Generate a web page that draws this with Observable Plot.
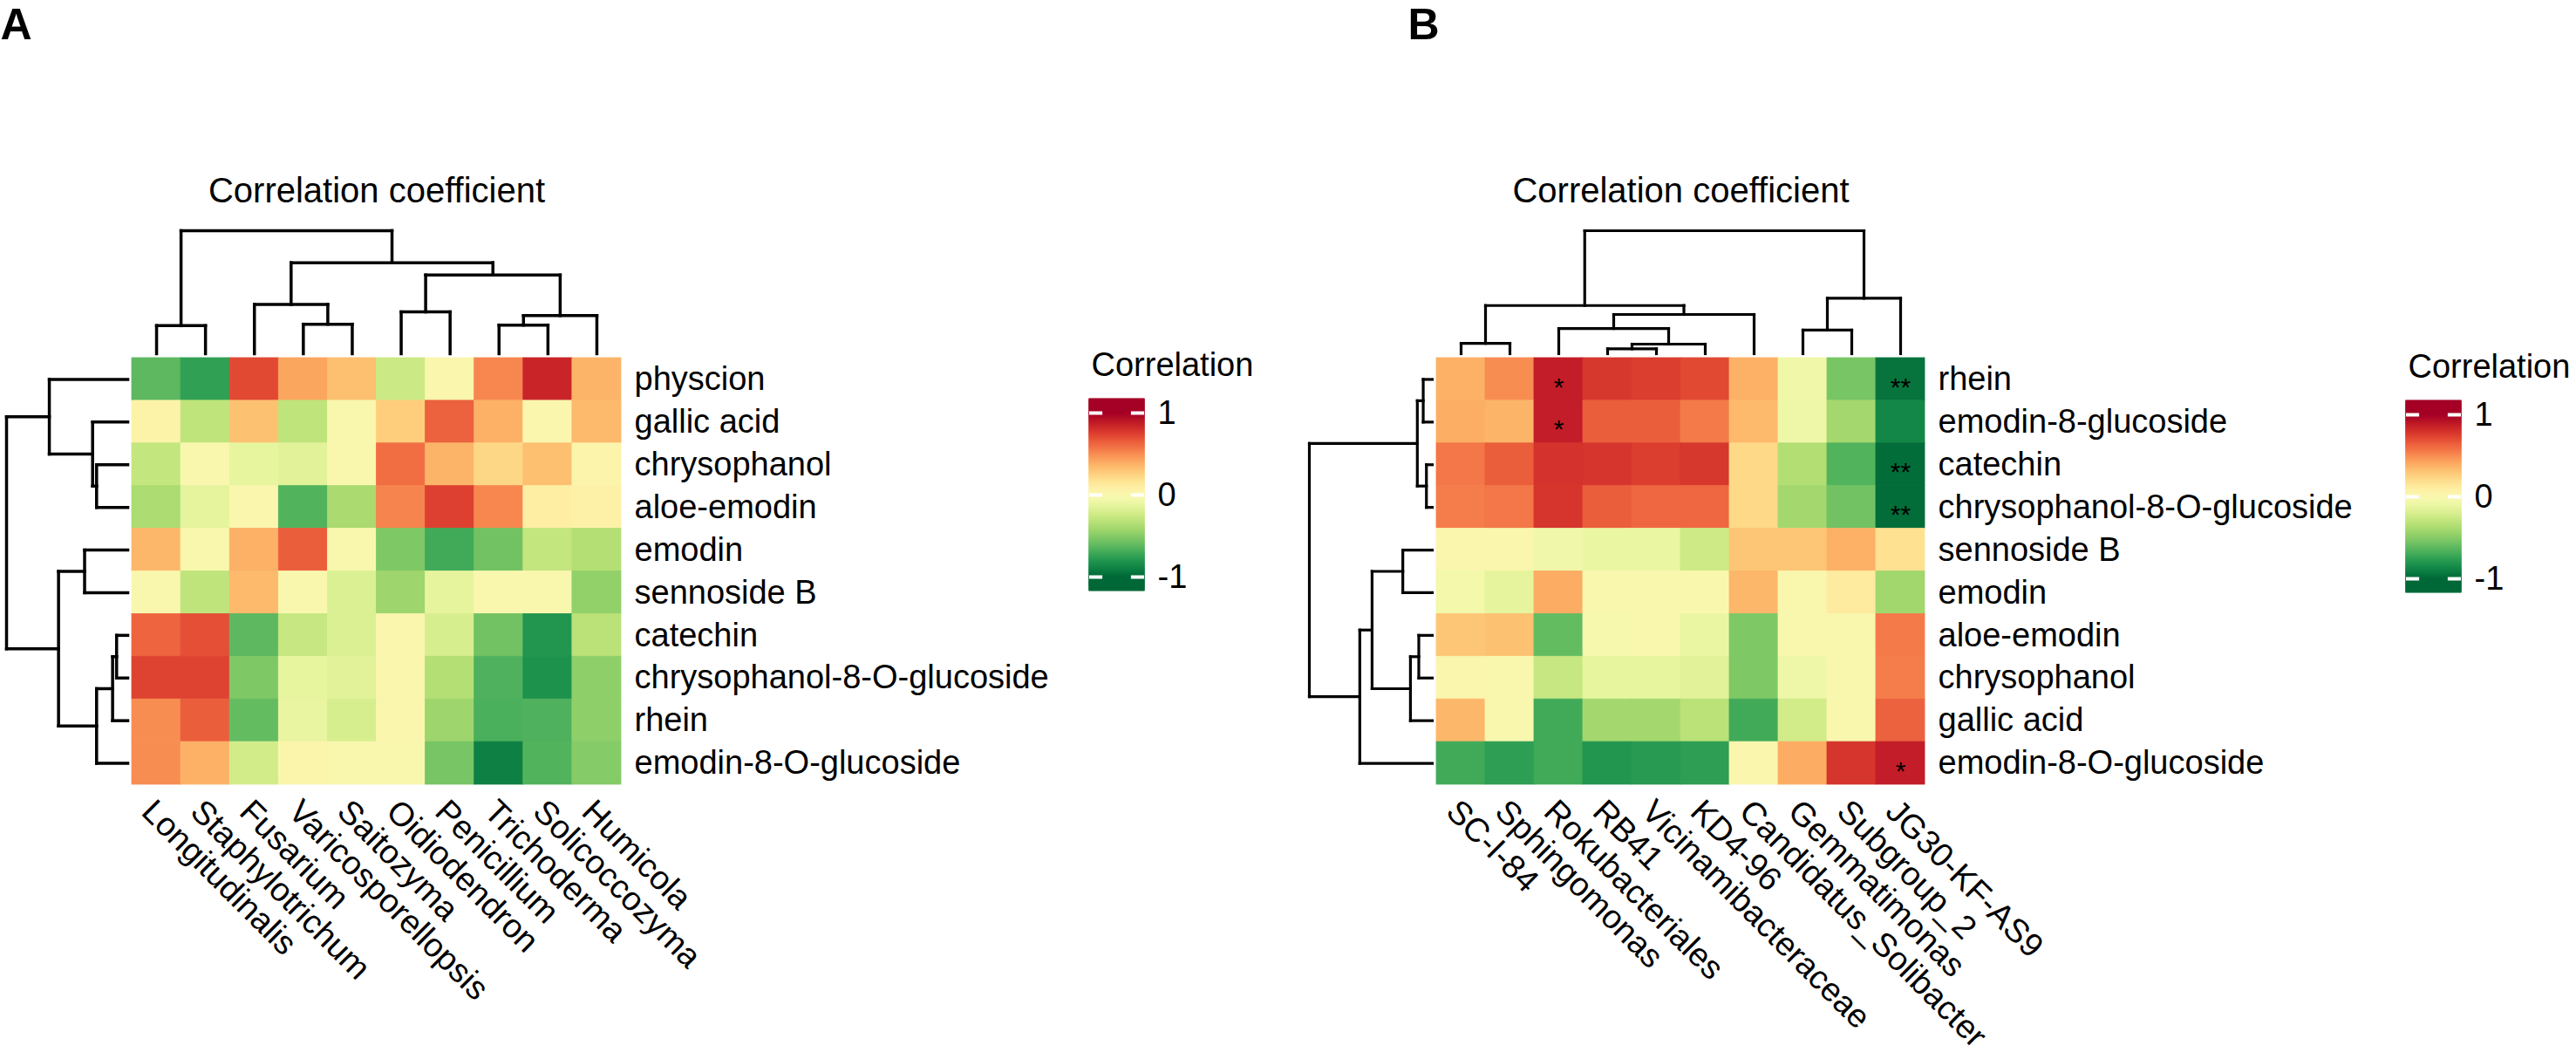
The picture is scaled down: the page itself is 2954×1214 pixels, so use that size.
<!DOCTYPE html>
<html><head><meta charset="utf-8">
<script src="https://cdn.jsdelivr.net/npm/d3@7"></script>
<script src="https://cdn.jsdelivr.net/npm/@observablehq/plot@0.6"></script>
<style>
html,body{margin:0;padding:0;background:#fff;}
#page{position:relative;width:2954px;height:1214px;overflow:hidden;background:#fff;}
#page svg{position:absolute;overflow:visible;}
</style></head><body><div id="page"></div>
<script>
// ---------------- Panel A data ----------------
const colsA = ["Longitudinalis","Staphylotrichum","Fusarium","Varicosporellopsis","Saitozyma","Oidiodendron","Penicillium","Trichoderma","Solicoccozyma","Humicola"];
const rowsA = ["physcion","gallic acid","chrysophanol","aloe-emodin","emodin","sennoside B","catechin","chrysophanol-8-O-glucoside","rhein","emodin-8-O-glucoside"];
const valuesA = [
  [-0.62,-0.75, 0.72, 0.42, 0.33,-0.25, 0.02, 0.52, 0.85, 0.37],
  [ 0.06,-0.30, 0.32,-0.30, 0.00, 0.27, 0.64, 0.38, 0.03, 0.35],
  [-0.28, 0.00,-0.12,-0.15, 0.00, 0.60, 0.37, 0.23, 0.33, 0.05],
  [-0.37,-0.13, 0.02,-0.65,-0.38, 0.53, 0.75, 0.52, 0.10, 0.08],
  [ 0.36, 0.00, 0.38, 0.65, 0.01,-0.52,-0.70,-0.56,-0.28,-0.34],
  [ 0.01,-0.30, 0.35, 0.00,-0.18,-0.42,-0.13, 0.00, 0.00,-0.46],
  [ 0.63, 0.70,-0.62,-0.27,-0.18, 0.02,-0.20,-0.56,-0.80,-0.32],
  [ 0.74, 0.74,-0.52,-0.12,-0.15, 0.02,-0.34,-0.66,-0.82,-0.47],
  [ 0.50, 0.65,-0.60,-0.11,-0.20, 0.02,-0.42,-0.67,-0.66,-0.47],
  [ 0.50, 0.38,-0.22, 0.04, 0.01, 0.00,-0.54,-0.90,-0.65,-0.50]
];
// dendrogram merges: [child, child, relative height]; "mK" = K-th merge
const colTreeA = [
  ["Longitudinalis","Staphylotrichum",0.228],
  ["Varicosporellopsis","Saitozyma",0.24],
  ["Fusarium","m1",0.40],
  ["Oidiodendron","Penicillium",0.34],
  ["Trichoderma","Solicoccozyma",0.233],
  ["m4","Humicola",0.31],
  ["m3","m5",0.64],
  ["m2","m6",0.74],
  ["m0","m7",1.0]
];
const rowTreeA = [
  ["chrysophanol","aloe-emodin",0.257],
  ["gallic acid","m0",0.29],
  ["physcion","m1",0.647],
  ["emodin","sennoside B",0.356],
  ["catechin","chrysophanol-8-O-glucoside",0.092],
  ["m4","rhein",0.125],
  ["m5","emodin-8-O-glucoside",0.257],
  ["m3","m6",0.571],
  ["m2","m7",1.0]
];
const starsA = [];

// ---------------- Panel B data ----------------
const colsB = ["SC-I-84","Sphingomonas","Rokubacteriales","RB41","Vicinamibacteraceae","KD4-96","Candidatus_Solibacter","Gemmatimonas","Subgroup_2","JG30-KF-AS9"];
const rowsB = ["rhein","emodin-8-glucoside","catechin","chrysophanol-8-O-glucoside","sennoside B","emodin","aloe-emodin","chrysophanol","gallic acid","emodin-8-O-glucoside"];
const valuesB = [
  [ 0.38, 0.50, 0.88, 0.78, 0.76, 0.72, 0.38,-0.07,-0.54,-0.95],
  [ 0.39, 0.37, 0.88, 0.65, 0.65, 0.56, 0.35,-0.08,-0.40,-0.87],
  [ 0.57, 0.65, 0.80, 0.79, 0.76, 0.78, 0.22,-0.35,-0.65,-0.98],
  [ 0.55, 0.57, 0.79, 0.65, 0.62, 0.62, 0.22,-0.40,-0.56,-0.98],
  [ 0.02, 0.02,-0.06,-0.10,-0.10,-0.24, 0.30, 0.30, 0.38, 0.18],
  [-0.05,-0.13, 0.40, 0.00, 0.00, 0.00, 0.36, 0.00, 0.12,-0.41],
  [ 0.30, 0.32,-0.60,-0.02, 0.00,-0.10,-0.52, 0.00, 0.00, 0.56],
  [ 0.02, 0.01,-0.27,-0.12,-0.12,-0.15,-0.52,-0.08, 0.00, 0.55],
  [ 0.36, 0.00,-0.70,-0.40,-0.40,-0.32,-0.70,-0.22, 0.00, 0.64],
  [-0.70,-0.76,-0.70,-0.80,-0.78,-0.76, 0.02, 0.40, 0.79, 0.88]
];
const colTreeB = [
  ["SC-I-84","Sphingomonas",0.084],
  ["RB41","Vicinamibacteraceae",0.04],
  ["m1","KD4-96",0.078],
  ["Rokubacteriales","m2",0.205],
  ["m3","Candidatus_Solibacter",0.319],
  ["m0","m4",0.392],
  ["Gemmatimonas","Subgroup_2",0.192],
  ["m6","JG30-KF-AS9",0.451],
  ["m5","m7",1.0]
];
const rowTreeB = [
  ["rhein","emodin-8-glucoside",0.074],
  ["catechin","chrysophanol-8-O-glucoside",0.048],
  ["m0","m1",0.122],
  ["sennoside B","emodin",0.24],
  ["aloe-emodin","chrysophanol",0.11],
  ["m4","gallic acid",0.178],
  ["m3","m5",0.49],
  ["m6","emodin-8-O-glucoside",0.59],
  ["m2","m7",1.0]
];
const starsB = [
  {row:"rhein", col:"Rokubacteriales", mark:"*"},
  {row:"emodin-8-glucoside", col:"Rokubacteriales", mark:"*"},
  {row:"rhein", col:"JG30-KF-AS9", mark:"**"},
  {row:"catechin", col:"JG30-KF-AS9", mark:"**"},
  {row:"chrysophanol-8-O-glucoside", col:"JG30-KF-AS9", mark:"**"},
  {row:"emodin-8-O-glucoside", col:"JG30-KF-AS9", mark:"*"}
];
const legendTicks = [-1, 0, 1];
const panelTitle = "Correlation coefficient";
const legendTitle = "Correlation";

// ---------------- helpers ----------------
const FONT = "'Liberation Sans', Arial, Helvetica, sans-serif";
const colorOpt = {type:"linear", scheme:"RdYlGn", reverse:true, domain:[-1,1], clamp:true};

function dendro(leaves, merges) {
  const pos = new Map(leaves.map((l,i)=>[l, i+0.5]));
  const hgt = new Map(leaves.map(l=>[l, 0]));
  const segs = [];
  merges.forEach(([a,b,h],k)=>{
    const pa = pos.get(a), pb = pos.get(b);
    segs.push({p1:pa, p2:pa, h1:hgt.get(a), h2:h});
    segs.push({p1:pb, p2:pb, h1:hgt.get(b), h2:h});
    segs.push({p1:pa, p2:pb, h1:h, h2:h});
    pos.set("m"+k, (pa+pb)/2); hgt.set("m"+k, h);
  });
  return segs;
}

function panel(L, D) {
  const [x0,x1,y0,y1] = L.hm;
  const nC = D.cols.length, nR = D.rows.length;
  const cw = (x1-x0)/nC, rh = (y1-y0)/nR;
  const cells = D.values.flatMap((row,r)=>row.map((v,c)=>({r,c,v})));
  const topSegs = dendro(D.cols, D.colTree), leftSegs = dendro(D.rows, D.rowTree);
  const ty = h => (L.topTree[0] + h*(L.topTree[1]-L.topTree[0]) - y0)/rh;
  const lx = h => (L.leftTree[0] + h*(L.leftTree[1]-L.leftTree[0]) - x0)/cw;
  const svg = Plot.plot({
    width: L.width, height: 1214, margin: 0,
    x: {domain:[0,nC], range:[x0,x1], axis:null},
    y: {domain:[0,nR], range:[y0,y1], axis:null},
    color: colorOpt,
    style: {fontFamily: FONT, fontSize: "38px", background: "transparent", overflow: "visible"},
    marks: [
      Plot.rect(cells, {x1:"c", x2:d=>d.c+1, y1:"r", y2:d=>d.r+1, fill:"v", stroke:"v", strokeWidth:0.8}),
      Plot.link(topSegs, {x1:"p1", x2:"p2", y1:d=>ty(d.h1), y2:d=>ty(d.h2), stroke:"black", strokeWidth:L.lw, strokeLinecap:"square"}),
      Plot.link(leftSegs, {y1:"p1", y2:"p2", x1:d=>lx(d.h1), x2:d=>lx(d.h2), stroke:"black", strokeWidth:L.lw, strokeLinecap:"square"}),
      Plot.text(D.rows, {x:nC, y:(d,i)=>i+0.5, text:d=>d, textAnchor:"start", lineAnchor:"middle", dx:15, fontSize:38}),
      Plot.text(D.cols, {x:(d,i)=>i+0.5, y:nR, text:d=>d, rotate:45, textAnchor:"start", lineAnchor:"top", dx:0, dy:14, fontSize:38}),
      Plot.text(D.stars, {x:d=>D.cols.indexOf(d.col)+0.5, y:d=>D.rows.indexOf(d.row)+0.5, text:"mark", textAnchor:"middle", lineAnchor:"middle", dy:9, fontSize:30}),
      Plot.text([panelTitle], {x:nC/2, y:0, dy:L.titleBase - y0, textAnchor:"middle", lineAnchor:"bottom", fontSize:40}),
      Plot.text([D.label], {frameAnchor:"top-left", dx:L.letterX, dy:44, textAnchor:"start", lineAnchor:"bottom", fontSize:50, fontWeight:"bold", fontFamily:"'Liberation Sans Narrow', 'Liberation Sans', Arial, sans-serif"})
    ]
  });
  svg.style.left = L.left + "px"; svg.style.top = "0px";
  return svg;
}

function legend(pos) {
  const slices = d3.range(-117, 117).map(i => i/100);
  const svg = Plot.plot({
    width: 240, height: 320, margin: 0,
    x: {domain:[0,1], range:[0,63], axis:null},
    y: {domain:[1,-1], range:[93,281], axis:null},
    color: colorOpt,
    style: {fontFamily: FONT, fontSize: "38px", background: "transparent", overflow: "visible"},
    marks: [
      Plot.rect(slices, {x1:0, x2:1, y1:d=>d, y2:d=>d+0.01, fill:d=>d+0.005, stroke:d=>d+0.005, strokeWidth:1.2}),
      Plot.ruleY(legendTicks, {x1:0, x2:0.24, stroke:"white", strokeWidth:4}),
      Plot.ruleY(legendTicks, {x1:0.76, x2:1, stroke:"white", strokeWidth:4}),
      Plot.text(legendTicks, {x:1, y:d=>d, text:d=>String(d), dx:15, textAnchor:"start", lineAnchor:"middle", fontSize:38}),
      Plot.text([legendTitle], {frameAnchor:"top-left", dx:2, dy:50, textAnchor:"start", lineAnchor:"bottom", fontSize:38})
    ]
  });
  svg.style.left = pos[0] + "px"; svg.style.top = pos[1] + "px";
  return svg;
}

const page = document.getElementById("page");
page.appendChild(panel(
  {left:0, width:1477, hm:[151,712,410,899], topTree:[405,264], leftTree:[146,7], lw:3.5, letterX:0, titleBase:231},
  {cols:colsA, rows:rowsA, values:valuesA, colTree:colTreeA, rowTree:rowTreeA, stars:starsA, label:"A"}
));
page.appendChild(panel(
  {left:1477, width:1477, hm:[170,730,410,899], topTree:[405,264], leftTree:[165,24], lw:3.2, letterX:137, titleBase:231},
  {cols:colsB, rows:rowsB, values:valuesB, colTree:colTreeB, rowTree:rowTreeB, stars:starsB, label:"B"}
));
page.appendChild(legend([1249, 380]));
page.appendChild(legend([2759, 382]));
</script>
</body></html>
